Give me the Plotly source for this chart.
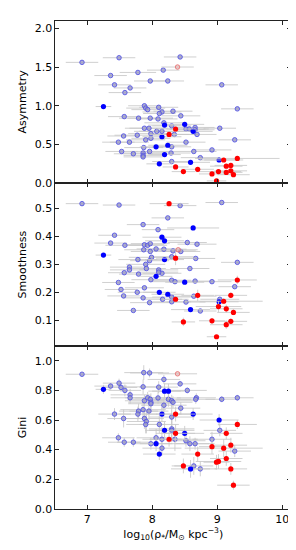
import plotly.graph_objects as go

# ---------------- Panel 1: Asymmetry ----------------
a_open_x = [6.92, 7.49, 8.43, 7.78, 8.17, 7.36, 7.97, 8.24, 7.42, 7.66, 7.58, 9.07, 9.31,
            7.88, 7.90, 7.93, 8.10, 8.15, 8.11, 8.32, 7.57, 8.44, 7.79, 7.97, 8.09, 8.18,
            8.30, 7.88, 7.95, 8.07, 8.15, 7.98, 7.77, 7.56, 8.34, 8.52, 8.57, 8.66, 8.66,
            9.04, 8.69, 7.90, 7.98, 7.48, 7.65, 8.52, 9.27, 7.87, 8.30, 7.53, 7.71, 7.86,
            7.86, 7.86, 7.96, 8.29, 8.64, 8.92, 8.74, 8.30]
a_open_y = [1.56, 1.62, 1.63, 1.43, 1.46, 1.39, 1.32, 1.32, 1.27, 1.23, 1.17, 1.27, 0.96,
            1.00, 0.97, 0.95, 0.98, 0.92, 0.90, 0.93, 0.86, 0.87, 0.84, 0.84, 0.83, 0.78,
            0.74, 0.71, 0.71, 0.67, 0.67, 0.64, 0.62, 0.61, 0.63, 0.70, 0.70, 0.72, 0.69,
            0.71, 0.63, 0.56, 0.58, 0.53, 0.53, 0.53, 0.56, 0.46, 0.47, 0.41, 0.38, 0.39,
            0.36, 0.34, 0.41, 0.39, 0.41, 0.43, 0.33, 0.28]
a_open_xerr = [0.25, 0.25, 0.25, 0.28, 0.25, 0.25, 0.25, 0.25, 0.25, 0.25, 0.25, 0.25, 0.25,
               0.25, 0.30, 0.25, 0.30, 0.30, 0.25, 0.30, 0.25, 0.30, 0.30, 0.35, 0.30, 0.30,
               0.30, 0.30, 0.30, 0.35, 0.35, 0.35, 0.35, 0.25, 0.35, 0.30, 0.30, 0.30, 0.30,
               0.25, 0.30, 0.30, 0.30, 0.25, 0.30, 0.30, 0.25, 0.30, 0.30, 0.25, 0.30, 0.30,
               0.30, 0.30, 0.30, 0.30, 0.35, 0.30, 0.30, 0.30]
a_fb_x = [7.25, 8.19, 8.50, 8.63, 8.15, 8.24, 8.06, 8.19, 8.11, 8.59, 9.03]
a_fb_y = [0.99, 0.75, 0.76, 0.67, 0.60, 0.49, 0.47, 0.37, 0.25, 0.27, 0.30]
a_fb_xerr = [0.12, 0.25, 0.30, 0.30, 0.30, 0.30, 0.25, 0.25, 0.20, 0.30, 0.30]
a_fr_x = [8.36, 8.26, 8.36, 8.48, 8.70, 9.10, 9.31, 9.14, 9.21, 9.02, 9.21, 9.14, 9.25,
          8.92, 8.99]
a_fr_y = [0.70, 0.63, 0.21, 0.15, 0.18, 0.30, 0.32, 0.22, 0.23, 0.15, 0.16, 0.14, 0.11,
          0.12, 0.03]
a_fr_xerr = [0.30, 0.30, 0.20, 0.18, 0.25, 0.30, 0.65, 0.25, 0.25, 0.35, 0.25, 0.25, 0.25,
             0.20, 0.15]
a_faint_x = [8.39]
a_faint_y = [1.50]

# ---------------- Panel 2: Smoothness ----------------
s_open_x = [6.92, 7.49, 8.43, 9.07, 8.24, 7.86, 8.09, 7.42, 7.36, 7.58, 7.88, 7.93, 7.97,
            8.54, 8.69, 7.87, 8.06, 8.18, 7.97, 8.32, 8.44, 7.99, 8.30, 8.67, 7.78, 7.96,
            9.31, 7.90, 7.65, 7.65, 7.91, 8.10, 8.15, 8.10, 7.57, 7.79, 8.58, 7.98, 8.30,
            8.35, 8.66, 8.92, 7.48, 9.27, 7.52, 7.88, 7.77, 7.56, 7.86, 8.16, 8.30, 8.30,
            8.64, 7.96, 8.52, 9.04, 7.71, 8.74]
s_open_y = [0.517, 0.512, 0.510, 0.521, 0.466, 0.442, 0.424, 0.404, 0.376, 0.368, 0.370,
            0.368, 0.374, 0.378, 0.372, 0.352, 0.355, 0.354, 0.346, 0.348, 0.346, 0.325,
            0.327, 0.321, 0.317, 0.313, 0.307, 0.300, 0.290, 0.280, 0.285, 0.280, 0.268,
            0.272, 0.270, 0.265, 0.285, 0.245, 0.243, 0.238, 0.240, 0.238, 0.235, 0.220,
            0.210, 0.216, 0.200, 0.187, 0.180, 0.175, 0.183, 0.166, 0.186, 0.163, 0.165,
            0.175, 0.135, 0.133]
s_open_xerr = [0.25, 0.25, 0.25, 0.25, 0.25, 0.25, 0.25, 0.25, 0.25, 0.30, 0.30, 0.30, 0.30,
               0.30, 0.30, 0.30, 0.30, 0.35, 0.30, 0.35, 0.30, 0.35, 0.35, 0.30, 0.30, 0.30,
               0.25, 0.30, 0.30, 0.30, 0.30, 0.30, 0.30, 0.30, 0.25, 0.30, 0.30, 0.30, 0.30,
               0.35, 0.30, 0.30, 0.25, 0.25, 0.25, 0.30, 0.30, 0.25, 0.30, 0.30, 0.30, 0.30,
               0.35, 0.30, 0.30, 0.30, 0.25, 0.25]
s_fb_x = [7.25, 8.63, 8.15, 8.19, 8.19, 8.06, 8.50, 8.11, 8.24, 9.03, 8.59]
s_fb_y = [0.333, 0.430, 0.397, 0.384, 0.317, 0.257, 0.236, 0.200, 0.193, 0.166, 0.138]
s_fb_xerr = [0.12, 0.40, 0.30, 0.30, 0.30, 0.25, 0.30, 0.25, 0.25, 0.30, 0.30]
s_fr_x = [8.26, 8.36, 8.70, 8.36, 9.31, 9.21, 9.10, 9.02, 9.14, 9.25, 8.92, 9.21, 8.48,
          9.14, 8.99]
s_fr_y = [0.517, 0.322, 0.189, 0.175, 0.244, 0.189, 0.168, 0.149, 0.141, 0.128, 0.098,
          0.096, 0.094, 0.084, 0.041]
s_fr_xerr = [0.30, 0.30, 0.25, 0.20, 0.30, 0.25, 0.60, 0.35, 0.25, 0.25, 0.20, 0.25, 0.18,
             0.25, 0.15]
s_fr_yerr = [0.000, 0.025, 0.020, 0.010, 0.015, 0.010, 0.010, 0.020, 0.015, 0.010, 0.010,
             0.010, 0.015, 0.015, 0.005]
s_faint_x = [8.40]
s_faint_y = [0.352]

# ---------------- Panel 3: Gini ----------------
g_open_x = [6.92, 7.87, 7.96, 8.18, 8.43, 7.49, 7.36, 7.52, 7.58, 7.86, 8.10, 8.54, 7.66,
            7.66, 7.93, 7.88, 7.97, 8.09, 8.25, 8.30, 8.32, 8.68, 8.67, 9.07, 9.31, 7.98,
            7.98, 8.18, 7.86, 7.79, 7.78, 8.44, 7.95, 7.42, 8.30, 7.56, 7.88, 7.91, 7.90,
            8.11, 9.04, 8.30, 8.30, 7.48, 8.06, 8.15, 8.35, 7.57, 7.71, 7.98, 8.52, 8.58,
            8.66, 8.92, 8.15, 9.27, 8.64, 8.74]
g_open_y = [0.909, 0.920, 0.918, 0.874, 0.844, 0.849, 0.829, 0.820, 0.800, 0.824, 0.822,
            0.800, 0.770, 0.750, 0.750, 0.730, 0.740, 0.749, 0.740, 0.730, 0.720, 0.750,
            0.740, 0.740, 0.750, 0.720, 0.710, 0.700, 0.670, 0.660, 0.640, 0.680, 0.660,
            0.640, 0.620, 0.610, 0.610, 0.590, 0.570, 0.570, 0.530, 0.540, 0.530, 0.480,
            0.480, 0.470, 0.470, 0.450, 0.450, 0.440, 0.460, 0.440, 0.440, 0.470, 0.410,
            0.390, 0.290, 0.270]
g_open_xerr = [0.25, 0.30, 0.30, 0.25, 0.25, 0.25, 0.25, 0.25, 0.25, 0.30, 0.30, 0.30, 0.30,
               0.30, 0.35, 0.30, 0.35, 0.35, 0.35, 0.35, 0.30, 0.30, 0.30, 0.25, 0.25, 0.35,
               0.35, 0.35, 0.35, 0.30, 0.30, 0.30, 0.30, 0.25, 0.35, 0.25, 0.30, 0.30, 0.30,
               0.30, 0.25, 0.35, 0.35, 0.25, 0.30, 0.30, 0.35, 0.25, 0.25, 0.30, 0.30, 0.30,
               0.30, 0.30, 0.30, 0.25, 0.30, 0.25]
g_open_yerr = [0.00, 0.05, 0.03, 0.03, 0.02, 0.03, 0.02, 0.03, 0.04, 0.05, 0.04, 0.02, 0.04,
               0.04, 0.04, 0.04, 0.03, 0.04, 0.05, 0.04, 0.04, 0.03, 0.03, 0.02, 0.02, 0.06,
               0.05, 0.05, 0.06, 0.05, 0.05, 0.04, 0.06, 0.04, 0.08, 0.06, 0.07, 0.08, 0.06,
               0.06, 0.04, 0.06, 0.08, 0.03, 0.06, 0.08, 0.08, 0.03, 0.03, 0.04, 0.04, 0.05,
               0.04, 0.05, 0.05, 0.04, 0.06, 0.05]
g_fb_x = [7.25, 8.19, 8.25, 8.15, 8.63, 9.03, 8.19, 8.50, 8.06, 8.11, 8.59]
g_fb_y = [0.807, 0.795, 0.795, 0.640, 0.640, 0.600, 0.530, 0.510, 0.440, 0.370, 0.270]
g_fb_xerr = [0.12, 0.25, 0.25, 0.30, 0.30, 0.30, 0.30, 0.30, 0.25, 0.25, 0.30]
g_fb_yerr = [0.03, 0.05, 0.05, 0.05, 0.04, 0.04, 0.06, 0.05, 0.05, 0.04, 0.06]
g_fr_x = [8.36, 8.36, 8.26, 9.31, 9.14, 9.21, 8.92, 9.10, 8.70, 9.14, 9.02, 8.99, 8.48,
          9.21, 9.25]
g_fr_y = [0.640, 0.510, 0.470, 0.570, 0.510, 0.430, 0.420, 0.410, 0.370, 0.340, 0.320,
          0.315, 0.290, 0.270, 0.160]
g_fr_xerr = [0.30, 0.30, 0.30, 0.30, 0.25, 0.25, 0.20, 0.60, 0.25, 0.25, 0.35, 0.20, 0.18,
             0.25, 0.25]
g_fr_yerr = [0.05, 0.06, 0.05, 0.03, 0.04, 0.05, 0.05, 0.06, 0.05, 0.05, 0.05, 0.05, 0.05,
             0.04, 0.03]
g_faint_x = [8.39]
g_faint_y = [0.912]

# ---------------- styles ----------------
ERR_COLOR = "rgba(200,200,200,0.85)"
OPEN_MARKER = dict(size=4.5, color="rgba(155,155,195,0.8)",
                   line=dict(color="rgba(80,80,230,0.85)", width=1))
BLUE_MARKER = dict(size=5.2, color="#0000ff", line=dict(width=0))
RED_MARKER = dict(size=5.2, color="#ff0000", line=dict(width=0))
FAINT_MARKER = dict(size=4.5, color="rgba(225,175,175,0.6)",
                    line=dict(color="rgba(230,90,90,0.7)", width=1))


def ex(vals):
    return dict(type="data", array=vals, color=ERR_COLOR, thickness=1, width=0)


def add_panel(fig, n, groups):
    for x, y, xerr, yerr, marker in groups:
        tr = dict(x=x, y=y, mode="markers", marker=marker, showlegend=False,
                  hoverinfo="skip", xaxis="x" if n == 1 else f"x{n}",
                  yaxis="y" if n == 1 else f"y{n}")
        if xerr is not None:
            tr["error_x"] = ex(xerr)
        if yerr is not None:
            tr["error_y"] = ex(yerr)
        fig.add_trace(go.Scatter(**tr))


fig = go.Figure()
add_panel(fig, 1, [
    (a_open_x, a_open_y, a_open_xerr, None, OPEN_MARKER),
    (a_faint_x, a_faint_y, [0.25], None, FAINT_MARKER),
    (a_fb_x, a_fb_y, a_fb_xerr, None, BLUE_MARKER),
    (a_fr_x, a_fr_y, a_fr_xerr, None, RED_MARKER),
])
add_panel(fig, 2, [
    (s_open_x, s_open_y, s_open_xerr, None, OPEN_MARKER),
    (s_faint_x, s_faint_y, [0.3], None, FAINT_MARKER),
    (s_fb_x, s_fb_y, s_fb_xerr, None, BLUE_MARKER),
    (s_fr_x, s_fr_y, s_fr_xerr, s_fr_yerr, RED_MARKER),
])
add_panel(fig, 3, [
    (g_open_x, g_open_y, g_open_xerr, g_open_yerr, OPEN_MARKER),
    (g_faint_x, g_faint_y, [0.3], None, FAINT_MARKER),
    (g_fb_x, g_fb_y, g_fb_xerr, g_fb_yerr, BLUE_MARKER),
    (g_fr_x, g_fr_y, g_fr_xerr, g_fr_yerr, RED_MARKER),
])

FONT = dict(family="DejaVu Sans", size=11, color="black")
common_axis = dict(showline=True, linecolor="#222222", linewidth=1, mirror="ticks",
                   ticks="inside", ticklen=4, tickwidth=1, tickcolor="#222222",
                   showgrid=False, zeroline=False, tickfont=FONT)

xdom = [0.160, 0.957]
xr = [6.51, 10.14]
xticks = [7, 8, 9, 10]

fig.update_layout(
    width=296, height=550, margin=dict(l=0, r=0, t=0, b=0),
    paper_bgcolor="white", plot_bgcolor="white", font=FONT,
    xaxis=dict(domain=xdom, range=xr, tickvals=xticks, showticklabels=False,
               anchor="y", **common_axis),
    xaxis2=dict(domain=xdom, range=xr, tickvals=xticks, showticklabels=False,
                anchor="y2", matches="x", **common_axis),
    xaxis3=dict(domain=xdom, range=xr, tickvals=xticks, anchor="y3", matches="x",
                title=dict(text="log<sub>10</sub>(ρ<sub>*</sub>/M<sub>⊙</sub> kpc<sup>−3</sup>)",
                           font=FONT, standoff=3),
                **common_axis),
    yaxis=dict(domain=[0.6773, 0.9769], range=[0, 2.1], tickvals=[0, 0.5, 1.0, 1.5, 2.0],
               tickformat=".1f", anchor="x",
               title=dict(text="Asymmetry", font=FONT, standoff=5), **common_axis),
    yaxis2=dict(domain=[0.3776, 0.6773], range=[0.008, 0.59],
                tickvals=[0.1, 0.2, 0.3, 0.4, 0.5], tickformat=".1f", anchor="x2",
                title=dict(text="Smoothness", font=FONT, standoff=5), **common_axis),
    yaxis3=dict(domain=[0.0776, 0.3776], range=[0, 1.1],
                tickvals=[0, 0.2, 0.4, 0.6, 0.8, 1.0], tickformat=".1f", anchor="x3",
                title=dict(text="Gini", font=FONT, standoff=5), **common_axis),
)

fig.write_html("out.html")
